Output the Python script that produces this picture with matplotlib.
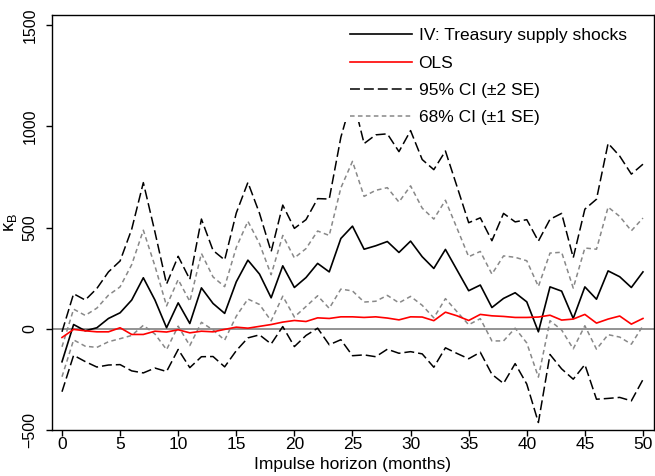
import numpy as np
import matplotlib
matplotlib.use("Agg")
import matplotlib.pyplot as plt
from matplotlib.patches import Rectangle

plt.rcParams['font.family'] = ['Liberation Sans', 'DejaVu Sans']
plt.rcParams['mathtext.fontset'] = 'custom'
plt.rcParams['mathtext.rm'] = 'Liberation Sans'
plt.rcParams['mathtext.it'] = 'Liberation Sans:italic'

# Impulse horizon in months
horizon = np.arange(0, 51)

# IV response to Treasury supply shocks
iv = [-163, 21, -10, 5, 51, 79, 142, 252, 142, 5,
      128, 26, 202, 125, 76, 232, 339, 270, 153, 311,
      204, 253, 323, 281, 446, 507, 393, 410, 431, 377,
      433, 356, 298, 392, 290, 188, 216, 105, 150, 178,
      133, -15, 207, 186, 51, 207, 146, 286, 257, 204, 281]

# standard errors of the IV estimate
se = [74, 76, 76, 97, 115, 128, 175, 235, 168, 108,
      115, 109, 170, 131, 132, 170, 192, 150, 114, 150,
      146, 143, 160, 180, 250, 320, 261, 274, 266, 249,
      273, 240, 244, 243, 206, 168, 166, 165, 210, 175,
      203, 224, 167, 192, 150, 192, 247, 315, 298, 280, 266]

# OLS response
ols = [-43, -3, -10, -15, -15, 5, -28, -28, -12, -16,
       -5, -20, -12, -15, -3, 8, 3, 12, 21, 33,
       41, 36, 54, 51, 59, 59, 56, 59, 53, 44,
       59, 58, 40, 82, 64, 41, 71, 64, 61, 56,
       56, 58, 67, 43, 48, 71, 28, 48, 63, 23, 51]

iv = np.array(iv, dtype=float)
se = np.array(se, dtype=float)
ols = np.array(ols, dtype=float)

fig = plt.figure(figsize=(6.55, 4.76), dpi=100)
ax = fig.add_axes([52 / 655, 1 - 430 / 476, 602 / 655, 415 / 476])

ax.axhline(0, color='#808080', lw=1.2, zorder=1)

ci95 = ax.plot(horizon, iv + 2 * se, color='black', lw=1.1, dashes=(6.5, 2.6), zorder=2)
ax.plot(horizon, iv - 2 * se, color='black', lw=1.1, dashes=(6.5, 2.6), zorder=2)
ci68 = ax.plot(horizon, iv + se, color='#888888', lw=1.1, dashes=(3.0, 2.2), zorder=2)
ax.plot(horizon, iv - se, color='#888888', lw=1.1, dashes=(3.0, 2.2), zorder=2)
l_iv = ax.plot(horizon, iv, color='black', lw=1.2, zorder=2.1)
l_ols = ax.plot(horizon, ols, color='#ff0000', lw=1.2, zorder=2.1)

# white patch behind the legend
ax.add_patch(Rectangle((0.47, 0.742), 0.53, 0.258, transform=ax.transAxes,
                       facecolor='white', edgecolor='none', zorder=2.3))

ax.legend([l_iv[0], l_ols[0], ci95[0], ci68[0]],
          ['IV: Treasury supply shocks', 'OLS', '95% CI (±2 SE)', '68% CI (±1 SE)'],
          loc='upper left', bbox_to_anchor=(0.495, 0.968), frameon=False,
          fontsize=12.5, handlelength=3.6, handletextpad=0.35,
          labelspacing=0.7, borderpad=0, borderaxespad=0)

ax.set_xlim(-0.86, 50.95)
ax.set_ylim(-500, 1550)
ax.set_xticks(range(0, 51, 5))
ax.set_yticks([-500, 0, 500, 1000, 1500])
ax.tick_params(axis='x', direction='out', length=4.5, width=1, labelsize=12.5, pad=0.5)
ax.tick_params(axis='y', direction='out', length=4.5, width=1, labelsize=11.5, pad=6)
for lab in ax.get_yticklabels():
    lab.set_rotation(90)
    lab.set_va('center')

for s in ax.spines.values():
    s.set_linewidth(1.0)

ax.set_xlabel('Impulse horizon (months)', fontsize=12.5)
ax.xaxis.set_label_coords(0.5, -0.064)
ax.set_ylabel(r'$\mathrm{\kappa_B}$', fontsize=13)
ax.yaxis.set_label_coords(-0.054, 0.5)

fig.savefig('out.png', dpi=100)
